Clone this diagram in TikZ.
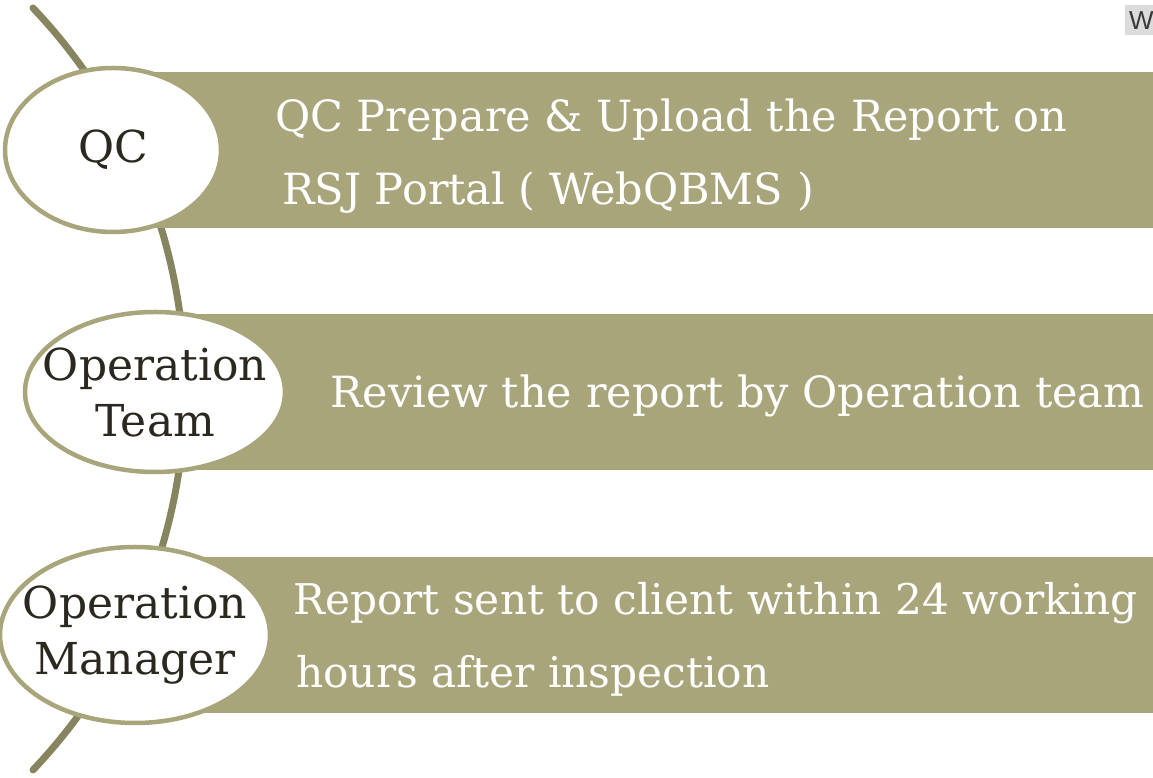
\documentclass[tikz,border=0pt]{standalone}
\usepackage{fontspec}
\setmainfont{DejaVu Serif}
\newfontfamily\tagfont{Liberation Sans}
\usepackage{tikz}
\usetikzlibrary{positioning,shapes.geometric}
\definecolor{bandolive}{HTML}{A9A57B}
\definecolor{spineolive}{HTML}{87855F}
\definecolor{inkdark}{HTML}{2B2820}
\definecolor{taggray}{HTML}{DCDCDC}
\definecolor{taginkgray}{HTML}{3A3A3A}
\tikzset{
  stage/.style={ellipse, draw=bandolive, line width=4.5pt, fill=white, text=inkdark, align=center, inner xsep=-25pt, inner ysep=0pt, font=\fontsize{44}{56}\selectfont},
  band/.style={rectangle, fill=bandolive, inner sep=0pt, minimum height=156pt, anchor=west},
  bandtext/.style={text=white, align=left, anchor=base west, inner sep=0pt, font=\fontsize{43}{73}\selectfont},
  spine/.style={draw=spineolive, line width=7pt, line cap=round},
  tag/.style={fill=taggray, text=taginkgray, anchor=north west, inner xsep=4pt, minimum height=30pt, font=\tagfont\fontsize{26}{26}\selectfont},
}

\begin{document}
\begin{tikzpicture}[x=1pt,y=1pt]
  \useasboundingbox (0,0) rectangle (1153,778);

  % spine behind the stages
  \coordinate (spinetop) at (33,770);
  \draw[spine] (spinetop) arc[start angle=43.5, end angle=-43.5, radius=553.5];

  \node[band, minimum width=1040pt] (band1) at (113,628) {};
  \node[band, minimum width=998pt] (band2) at (155,386) {};
  \node[band, minimum width=1018pt] (band3) at (135,143) {};

  \node[stage, minimum width=216pt, minimum height=164pt] (qc) at (113,628) {QC};
  \node[stage, minimum width=260pt, minimum height=160pt] (opteam) at (155,386) {Operation\\Team};
  \node[stage, minimum width=270pt, minimum height=176pt] (opmgr) at (135,143) {Operation\\Manager};

  \node[bandtext] (qctext) at (275,573) {QC Prepare \& Upload the Report on\\\hspace*{7pt}RSJ Portal ( WebQBMS )};
  \node[bandtext] (opteamtext) at (330,370) {Review the report by Operation team};
  \node[bandtext, font=\fontsize{42.3}{73}\selectfont] (opmgrtext) at (293,90) {Report sent to client within 24 working\\\hspace*{3pt}hours after inspection};

  \node[tag] (wtag) at (1125,773) {W};
\end{tikzpicture}
\end{document}
